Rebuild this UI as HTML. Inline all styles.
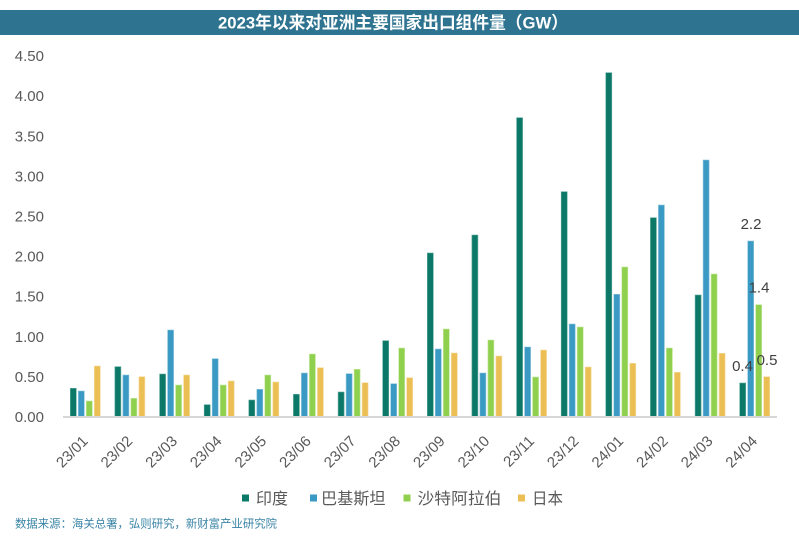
<!DOCTYPE html>
<html>
<head>
<meta charset="utf-8">
<style>
html,body{margin:0;padding:0;background:#fff;}
svg{display:block;}
text{font-family:"Liberation Sans","Noto Sans CJK SC",sans-serif;}
</style>
</head>
<body>
<svg width="799" height="545" viewBox="0 0 799 545" xmlns="http://www.w3.org/2000/svg">
<rect x="0" y="0" width="799" height="545" fill="#ffffff"/>
<rect x="0" y="10" width="799" height="25" fill="#2e7490"/>
<text x="393" y="28.5" font-size="17" font-weight="bold" fill="#ffffff" text-anchor="middle" textLength="350" lengthAdjust="spacingAndGlyphs">2023年以来对亚洲主要国家出口组件量（GW）</text>

<g font-size="15" fill="#595959" text-anchor="end">
<text x="44" y="61.1">4.50</text>
<text x="44" y="101.2">4.00</text>
<text x="44" y="141.3">3.50</text>
<text x="44" y="181.4">3.00</text>
<text x="44" y="221.5">2.50</text>
<text x="44" y="261.6">2.00</text>
<text x="44" y="301.7">1.50</text>
<text x="44" y="341.8">1.00</text>
<text x="44" y="381.9">0.50</text>
<text x="44" y="422">0.00</text>
</g>

<g fill="#0b7868" stroke="#5fa99c" stroke-width="0.6">
<rect x="70.3" y="388.3" width="6" height="28.2"/>
<rect x="114.9" y="366.7" width="6" height="49.8"/>
<rect x="159.6" y="374" width="6" height="42.5"/>
<rect x="204.2" y="404.7" width="6" height="11.8"/>
<rect x="248.8" y="400" width="6" height="16.5"/>
<rect x="293.4" y="394.3" width="6" height="22.2"/>
<rect x="338.1" y="392" width="6" height="24.5"/>
<rect x="382.7" y="340.7" width="6" height="75.8"/>
<rect x="427.3" y="253" width="6" height="163.5"/>
<rect x="471.9" y="235" width="6" height="181.5"/>
<rect x="516.6" y="117.7" width="6" height="298.8"/>
<rect x="561.2" y="191.7" width="6" height="224.8"/>
<rect x="605.8" y="72.7" width="6" height="343.8"/>
<rect x="650.4" y="217.7" width="6" height="198.8"/>
<rect x="695.1" y="295" width="6" height="121.5"/>
<rect x="739.7" y="383" width="6" height="33.5"/>
</g>
<g fill="#3b9ac4" stroke="#8cc4dc" stroke-width="0.6">
<rect x="78.3" y="391" width="6" height="25.5"/>
<rect x="122.9" y="375" width="6" height="41.5"/>
<rect x="167.6" y="330" width="6" height="86.5"/>
<rect x="212.2" y="358.7" width="6" height="57.8"/>
<rect x="256.8" y="389.3" width="6" height="27.2"/>
<rect x="301.4" y="373" width="6" height="43.5"/>
<rect x="346.1" y="373.7" width="6" height="42.8"/>
<rect x="390.7" y="383.7" width="6" height="32.8"/>
<rect x="435.3" y="349" width="6" height="67.5"/>
<rect x="479.9" y="373" width="6" height="43.5"/>
<rect x="524.6" y="347" width="6" height="69.5"/>
<rect x="569.2" y="324" width="6" height="92.5"/>
<rect x="613.8" y="294.3" width="6" height="122.2"/>
<rect x="658.4" y="205" width="6" height="211.5"/>
<rect x="703.1" y="160" width="6" height="256.5"/>
<rect x="747.7" y="241" width="6" height="175.5"/>
</g>
<g fill="#8fd14f" stroke="#c2e69c" stroke-width="0.6">
<rect x="86.3" y="401" width="6" height="15.5"/>
<rect x="130.9" y="398.3" width="6" height="18.2"/>
<rect x="175.6" y="385" width="6" height="31.5"/>
<rect x="220.2" y="385" width="6" height="31.5"/>
<rect x="264.8" y="375" width="6" height="41.5"/>
<rect x="309.4" y="354" width="6" height="62.5"/>
<rect x="354.1" y="369.3" width="6" height="47.2"/>
<rect x="398.7" y="348" width="6" height="68.5"/>
<rect x="443.3" y="329" width="6" height="87.5"/>
<rect x="487.9" y="340" width="6" height="76.5"/>
<rect x="532.6" y="377" width="6" height="39.5"/>
<rect x="577.2" y="327" width="6" height="89.5"/>
<rect x="621.8" y="267" width="6" height="149.5"/>
<rect x="666.4" y="348" width="6" height="68.5"/>
<rect x="711.1" y="274" width="6" height="142.5"/>
<rect x="755.7" y="304.7" width="6" height="111.8"/>
</g>
<g fill="#ecbf55" stroke="#f5dc9f" stroke-width="0.6">
<rect x="94.3" y="366" width="6" height="50.5"/>
<rect x="138.9" y="376.7" width="6" height="39.8"/>
<rect x="183.6" y="375" width="6" height="41.5"/>
<rect x="228.2" y="381" width="6" height="35.5"/>
<rect x="272.8" y="382" width="6" height="34.5"/>
<rect x="317.4" y="367.7" width="6" height="48.8"/>
<rect x="362.1" y="382.7" width="6" height="33.8"/>
<rect x="406.7" y="377.7" width="6" height="38.8"/>
<rect x="451.3" y="353" width="6" height="63.5"/>
<rect x="495.9" y="356" width="6" height="60.5"/>
<rect x="540.6" y="350" width="6" height="66.5"/>
<rect x="585.2" y="367" width="6" height="49.5"/>
<rect x="629.8" y="363.3" width="6" height="53.2"/>
<rect x="674.4" y="372.3" width="6" height="44.2"/>
<rect x="719.1" y="353.3" width="6" height="63.2"/>
<rect x="763.7" y="376.7" width="6" height="39.8"/>
</g>

<line x1="63" y1="417" x2="777" y2="417" stroke="#d6d6d6" stroke-width="2"/>

<g font-size="15" fill="#404040" text-anchor="middle">
<text x="751" y="229">2.2</text>
<text x="759" y="292.5">1.4</text>
<text x="742.5" y="371">0.4</text>
<text x="767" y="365">0.5</text>
</g>

<g font-size="15" fill="#595959" text-anchor="end">
<text transform="translate(88.8,442) rotate(-45)">23/01</text>
<text transform="translate(133.4,442) rotate(-45)">23/02</text>
<text transform="translate(178.1,442) rotate(-45)">23/03</text>
<text transform="translate(222.7,442) rotate(-45)">23/04</text>
<text transform="translate(267.3,442) rotate(-45)">23/05</text>
<text transform="translate(311.9,442) rotate(-45)">23/06</text>
<text transform="translate(356.6,442) rotate(-45)">23/07</text>
<text transform="translate(401.2,442) rotate(-45)">23/08</text>
<text transform="translate(445.8,442) rotate(-45)">23/09</text>
<text transform="translate(490.4,442) rotate(-45)">23/10</text>
<text transform="translate(535.1,442) rotate(-45)">23/11</text>
<text transform="translate(579.7,442) rotate(-45)">23/12</text>
<text transform="translate(624.3,442) rotate(-45)">24/01</text>
<text transform="translate(668.9,442) rotate(-45)">24/02</text>
<text transform="translate(713.6,442) rotate(-45)">24/03</text>
<text transform="translate(758.2,442) rotate(-45)">24/04</text>
</g>

<g font-size="16" fill="#595959">
<rect x="242" y="494.5" width="7" height="7" fill="#0b7868"/>
<text x="256" y="504" textLength="32" lengthAdjust="spacingAndGlyphs">印度</text>
<rect x="310" y="494.5" width="7" height="7" fill="#3b9ac4"/>
<text x="321" y="504" textLength="64.5" lengthAdjust="spacingAndGlyphs">巴基斯坦</text>
<rect x="403.5" y="494.5" width="7" height="7" fill="#8fd14f"/>
<text x="417.5" y="504" textLength="84" lengthAdjust="spacingAndGlyphs">沙特阿拉伯</text>
<rect x="518" y="494.5" width="7" height="7" fill="#ecbf55"/>
<text x="532" y="504" textLength="31" lengthAdjust="spacingAndGlyphs">日本</text>
</g>

<text x="15" y="527.5" font-size="11.5" fill="#3a84a6" textLength="262" lengthAdjust="spacingAndGlyphs">数据来源：海关总署，弘则研究，新财富产业研究院</text>
</svg>
</body>
</html>
